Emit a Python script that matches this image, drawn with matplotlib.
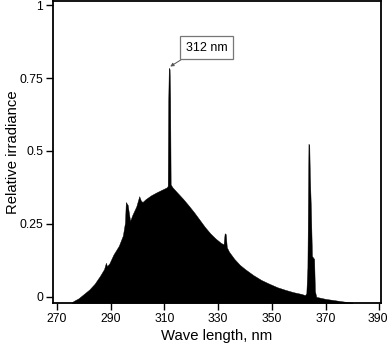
import matplotlib
matplotlib.use("Agg")
import matplotlib.pyplot as plt
import matplotlib.transforms as mtransforms

plt.rcParams['font.family'] = ['Liberation Sans', 'DejaVu Sans']

wavelength = [275.5, 276, 278, 280, 282, 284, 286, 287.5, 288.2, 288.6, 289.5, 291, 293,
              294.5, 295.3, 295.6, 296.3, 297.2, 298, 299.5, 300.6, 301.2, 301.8, 303,
              305, 307, 309, 310.8, 311.2, 311.4, 311.6, 311.9, 312.1, 312.3, 313, 315,
              317, 319, 321, 323, 325, 327, 329, 331, 332, 332.4, 332.8, 333.2, 334, 336,
              338, 340, 343, 346, 349, 352, 355, 358, 361, 362.3, 362.8, 363.2, 363.6,
              363.9, 364.1, 364.5, 364.9, 365.3, 365.7, 366, 366.5, 368, 370, 373, 376, 380]
irradiance = [-0.02, -0.015, -0.005, 0.01, 0.025, 0.045, 0.072, 0.095, 0.117, 0.105, 0.115,
              0.145, 0.175, 0.21, 0.255, 0.325, 0.315, 0.26, 0.28, 0.31, 0.345, 0.33, 0.325,
              0.335, 0.348, 0.358, 0.367, 0.375, 0.38, 0.67, 0.785, 0.78, 0.68, 0.385, 0.375,
              0.355, 0.335, 0.313, 0.29, 0.265, 0.24, 0.218, 0.2, 0.185, 0.18, 0.218, 0.215,
              0.17, 0.155, 0.13, 0.11, 0.095, 0.075, 0.058, 0.045, 0.033, 0.024, 0.016, 0.01,
              0.006, 0.012, 0.1, 0.525, 0.52, 0.42, 0.3, 0.14, 0.135, 0.13, 0.02, 0.0, -0.003,
              -0.007, -0.011, -0.015, -0.02]

x_ticks = [270, 290, 310, 330, 350, 370, 390]
y_ticks = [0, 0.25, 0.5, 0.75, 1]
y_tick_labels = ["0", "0.25", "0.5", "0.75", "1"]
annotation_text = "312 nm"
peak_wl = 311.7
peak_val = 0.787

fig = plt.figure(figsize=(3.87, 3.47), dpi=100)
ax = fig.add_axes([53/387, 1 - 303/347, (381 - 53)/387, (303 - 1)/347])

ymin = -0.021
ax.fill_between(wavelength, irradiance, ymin, color='black', linewidth=0.3, edgecolor='black')

ax.set_xlim(268.5, 390.6)
ax.set_ylim(ymin, 1.014)
ax.set_xticks(x_ticks)
ax.set_yticks(y_ticks)
ax.set_yticklabels(y_tick_labels)
ax.tick_params(direction='out', length=5, width=1, labelsize=8.7, pad=2, colors='black')
for s in ax.spines.values():
    s.set_linewidth(1.3)

# nudge last x tick label slightly left so it stays inside the canvas
last_lbl = ax.get_xticklabels()[-1]
last_lbl.set_transform(last_lbl.get_transform() +
                       mtransforms.ScaledTranslation(-2/100, 0, fig.dpi_scale_trans))

ax.set_xlabel("Wave length, nm", fontsize=10.7, labelpad=3)
ax.set_ylabel("Relative irradiance", fontsize=10.7, labelpad=0)

ax.annotate(annotation_text, xy=(peak_wl, peak_val), xytext=(325.7, 0.854),
            textcoords='data', ha='center', va='center', fontsize=9,
            bbox=dict(boxstyle='square,pad=0.45', fc='white', ec='#777777', lw=0.9),
            arrowprops=dict(arrowstyle='-|>', color='#555555', lw=0.7,
                            mutation_scale=5, relpos=(0.12, 0.0), shrinkA=0, shrinkB=1))

fig.savefig("out.png", dpi=100)
